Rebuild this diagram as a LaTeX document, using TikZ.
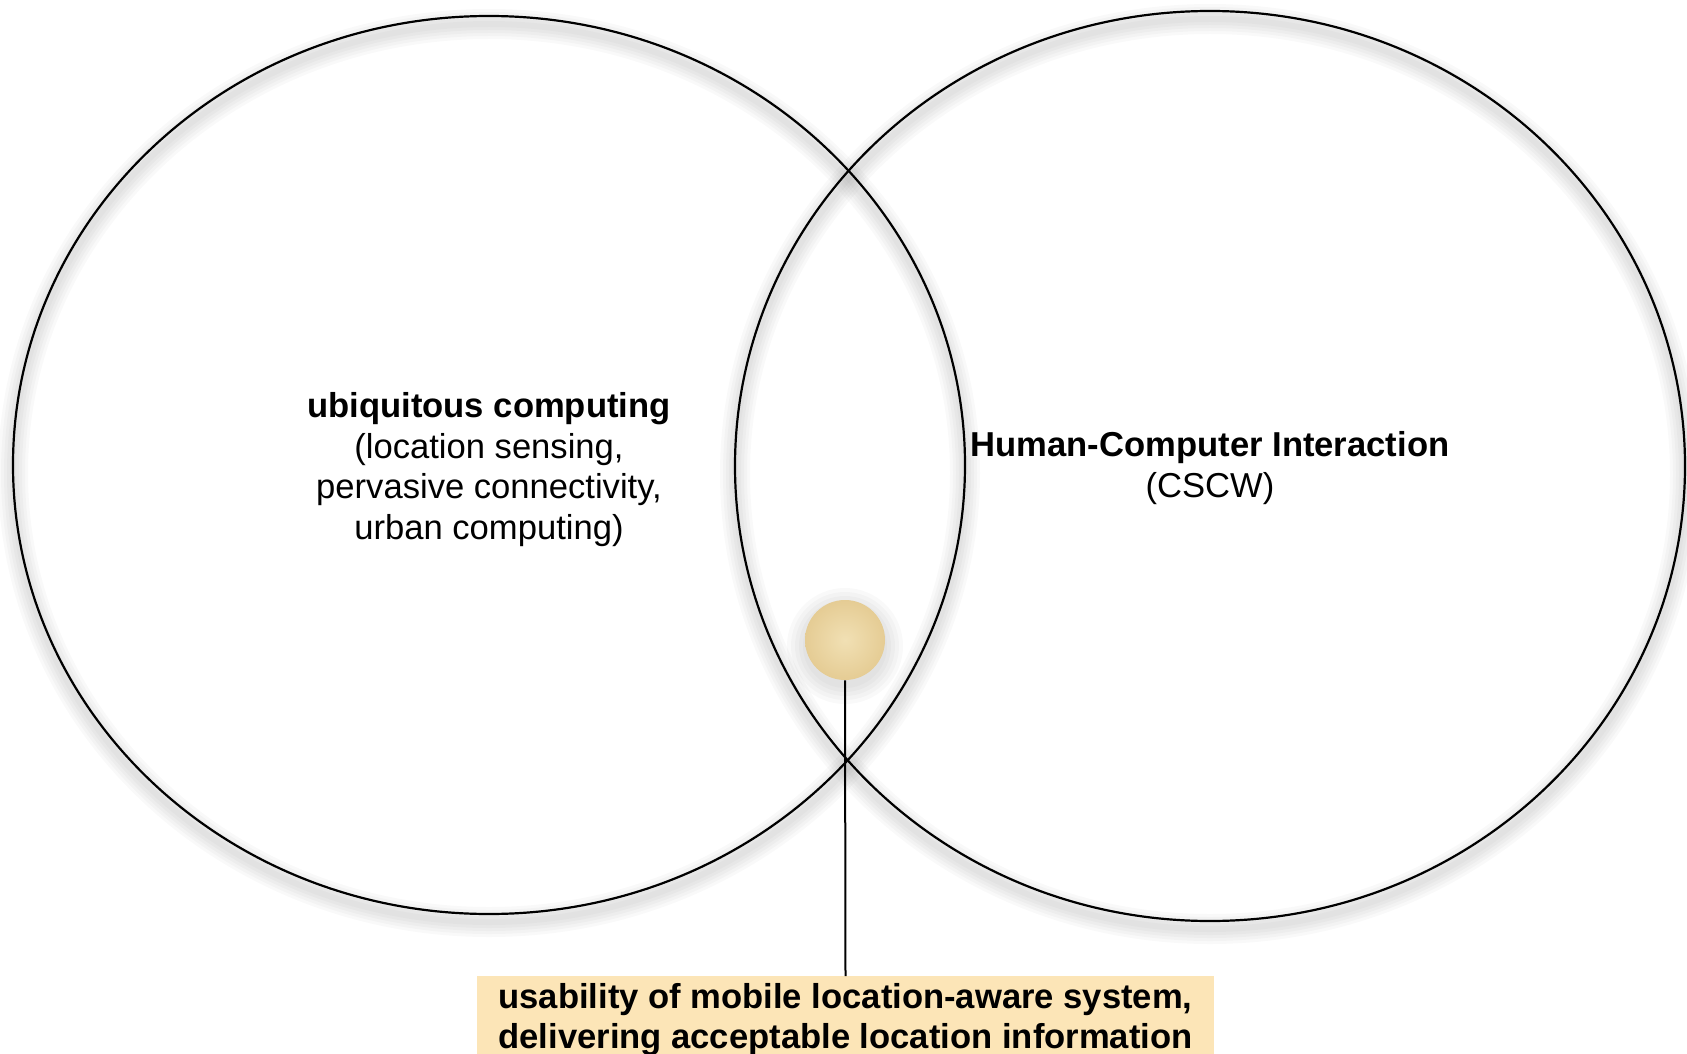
\documentclass[tikz,border=0pt]{standalone}
\usepackage{fontspec}
\setmainfont{Liberation Sans}
\usetikzlibrary{shapes.geometric}
\definecolor{boxfill}{RGB}{252,229,183}
\definecolor{ballin}{RGB}{241,224,180}
\definecolor{ballout}{RGB}{229,204,148}
\begin{document}
\begin{tikzpicture}[x=0.5pt,y=-0.5pt,
  venn/.style={draw=black, line width=1.1pt, ellipse, inner sep=0pt},
  lbl/.style={align=center, font=\fontsize{17.3}{20.3}\selectfont},
  vshadow/.style={draw=black, draw opacity=0.024}]
\useasboundingbox (0,0) rectangle (1687,1054);
% soft shadows of the two sets
\foreach \w in {3,6,9,12,15}{
  \draw[vshadow, line width=\w pt] (489,473) ellipse [x radius=238pt, y radius=224.5pt];
  \draw[vshadow, line width=\w pt] (1210,474) ellipse [x radius=237.5pt, y radius=227.5pt];
}
% soft shadow of the ball
\foreach \r in {21,23,25,27,29}{
  \fill[black, opacity=0.025] (845,646) circle [radius=\r pt];
}
\node[venn, minimum width=476pt, minimum height=449pt] (ubi) at (489,465) {};
\node[venn, minimum width=475pt, minimum height=455pt] (hci) at (1210,466) {};
\node[lbl] (ubitext) at (489,469.5)
  {\textbf{ubiquitous computing}\\(location sensing,\\pervasive connectivity,\\urban computing)};
\node[lbl] (hcitext) at (1210,468)
  {\textbf{Human-Computer Interaction}\\(CSCW)};
\node[circle, minimum size=40pt, inner sep=0pt, inner color=ballin, outer color=ballout] (ball) at (845,640) {};
\node[fill=boxfill, minimum width=368.5pt, minimum height=40pt, anchor=north, lbl] (use) at (845.5,976)
  {\textbf{usability of mobile location-aware system,}\\\textbf{delivering acceptable location information}};
\draw[line width=1pt] (ball.south) -- (use.north);
\end{tikzpicture}
\end{document}
